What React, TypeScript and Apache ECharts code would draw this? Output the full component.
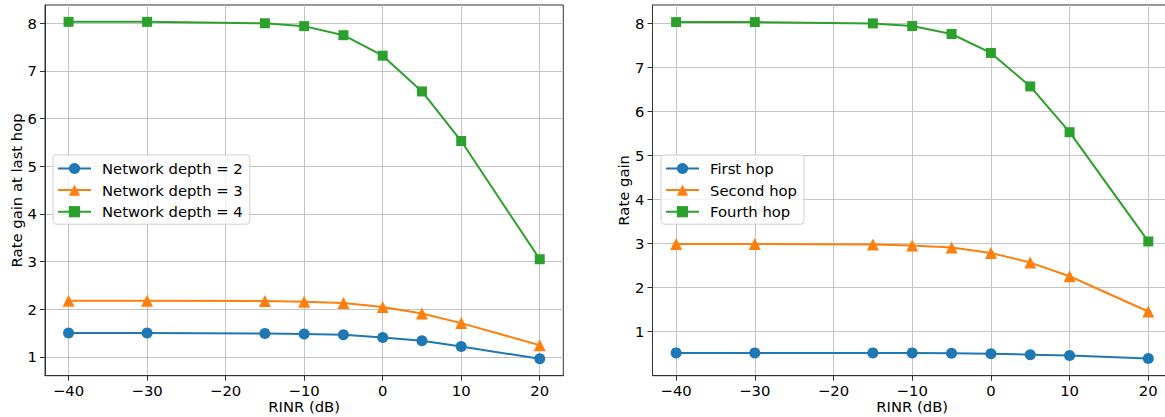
import { useEffect, useRef } from "react";
import * as echarts from "echarts";

const rinr = [-40, -30, -15, -10, -5, 0, 5, 10, 20];
const depth2 = [1.5, 1.5, 1.49, 1.48, 1.465, 1.41, 1.34, 1.22, 0.96];
const depth3 = [2.18, 2.18, 2.175, 2.16, 2.13, 2.05, 1.91, 1.71, 1.245];
const depth4 = [8.03, 8.03, 8.0, 7.94, 7.75, 7.32, 6.57, 5.53, 3.05];
const firstHop = [0.52, 0.52, 0.52, 0.52, 0.51, 0.5, 0.48, 0.46, 0.39];
const secondHop = [2.99, 2.99, 2.98, 2.96, 2.91, 2.79, 2.57, 2.26, 1.46];
const fourthHop = [8.03, 8.03, 8.0, 7.94, 7.76, 7.33, 6.57, 5.53, 3.05];
const xTicks = [-40, -30, -20, -10, 0, 10, 20];
const yTicks = [1, 2, 3, 4, 5, 6, 7, 8];
const leftNames = ["Network depth = 2", "Network depth = 3", "Network depth = 4"];
const rightNames = ["First hop", "Second hop", "Fourth hop"];
const xLimits = [-43, 23];
const leftYLimits = [0.6065, 8.3835];
const rightYLimits = [0.002, 8.418];

const COLORS = ["#1f77b4", "#ff7f0e", "#2ca02c"];
const SYMBOLS = ["circle", "triangle", "rect"];
const SIZES = [11, 12, 10];
const FONT = "DejaVu Sans";
const FS = 14.8;

const fmt = (v: number) => String(v).replace("-", "\u2212");

function xAxis(gridIndex: number) {
  return {
    type: "value",
    gridIndex,
    min: xLimits[0],
    max: xLimits[1],
    name: "RINR (dB)",
    nameLocation: "middle",
    nameGap: 23,
    nameMoveOverlap: false,
    nameTextStyle: { fontFamily: FONT, fontSize: FS, color: "#000", lineHeight: 16 },
    axisLine: { show: true, onZero: false, lineStyle: { color: "#333", width: 1 } },
    axisTick: { show: true, inside: false, length: 5, customValues: xTicks, lineStyle: { color: "#333" } },
    axisLabel: { customValues: xTicks, formatter: fmt, fontFamily: FONT, fontSize: FS, color: "#000", margin: 7 },
    splitLine: { show: true, lineStyle: { color: "#c4c4c4", width: 1 } },
  };
}

function yAxis(gridIndex: number, lim: number[], name: string) {
  return {
    type: "value",
    gridIndex,
    min: lim[0],
    max: lim[1],
    name,
    nameLocation: "middle",
    nameGap: 20,
    nameTextStyle: { fontFamily: FONT, fontSize: FS, color: "#000" },
    axisLine: { show: true, onZero: false, lineStyle: { color: "#333", width: 1 } },
    axisTick: { show: true, inside: false, length: 5, customValues: yTicks, lineStyle: { color: "#333" } },
    axisLabel: { customValues: yTicks, formatter: fmt, fontFamily: FONT, fontSize: FS, color: "#000", margin: 8 },
    splitLine: { show: true, lineStyle: { color: "#c4c4c4", width: 1 } },
  };
}

function series(names: string[], data: number[][], idx: number) {
  return names.map((n, i) => ({
    type: "line",
    name: n,
    xAxisIndex: idx,
    yAxisIndex: idx,
    data: rinr.map((x, j) => [x, data[i][j]]),
    symbol: SYMBOLS[i],
    symbolSize: SIZES[i],
    showSymbol: true,
    clip: false,
    z: 2 + i,
    lineStyle: { color: COLORS[i], width: 2 },
    itemStyle: { color: COLORS[i] },
  }));
}

function legend(names: string[], left: number) {
  return {
    data: names,
    orient: "vertical",
    left,
    top: 155,
    itemWidth: 33,
    itemHeight: 14,
    itemGap: 6.6,
    padding: [6, 7, 5, 4],
    backgroundColor: "rgba(255,255,255,0.8)",
    borderColor: "#d0d0d0",
    borderWidth: 1,
    borderRadius: 3,
    textStyle: { fontFamily: FONT, fontSize: FS, color: "#000", lineHeight: 14, padding: [0, 0, 0, 6] },
  };
}

export default function App() {
  const ref = useRef<HTMLDivElement>(null);
  useEffect(() => {
    if (!ref.current) return;
    const chart = echarts.init(ref.current, null, { renderer: "svg" });
    chart.setOption({
      animation: false,
      backgroundColor: "#fff",
      textStyle: { fontFamily: FONT },
      grid: [
        { left: 45, top: 5, width: 518.3, height: 370.7, outerBoundsMode: "none", containLabel: false, show: true, borderColor: "#333", borderWidth: 1, backgroundColor: "transparent" },
        { left: 652.5, top: 5, width: 519.4, height: 370.7, outerBoundsMode: "none", containLabel: false, show: true, borderColor: "#333", borderWidth: 1, backgroundColor: "transparent" },
      ],
      xAxis: [xAxis(0), xAxis(1)],
      yAxis: [yAxis(0, leftYLimits, "Rate gain at last hop"), yAxis(1, rightYLimits, "Rate gain")],
      legend: [legend(leftNames, 53), legend(rightNames, 661)],
      series: [
        ...series(leftNames, [depth2, depth3, depth4], 0),
        ...series(rightNames, [firstHop, secondHop, fourthHop], 1),
      ],
    });
    return () => chart.dispose();
  }, []);
  return (
    <div
      ref={ref}
      style={{ position: "fixed", left: 0, top: 0, width: 1165, height: 417 }}
    />
  );
}
